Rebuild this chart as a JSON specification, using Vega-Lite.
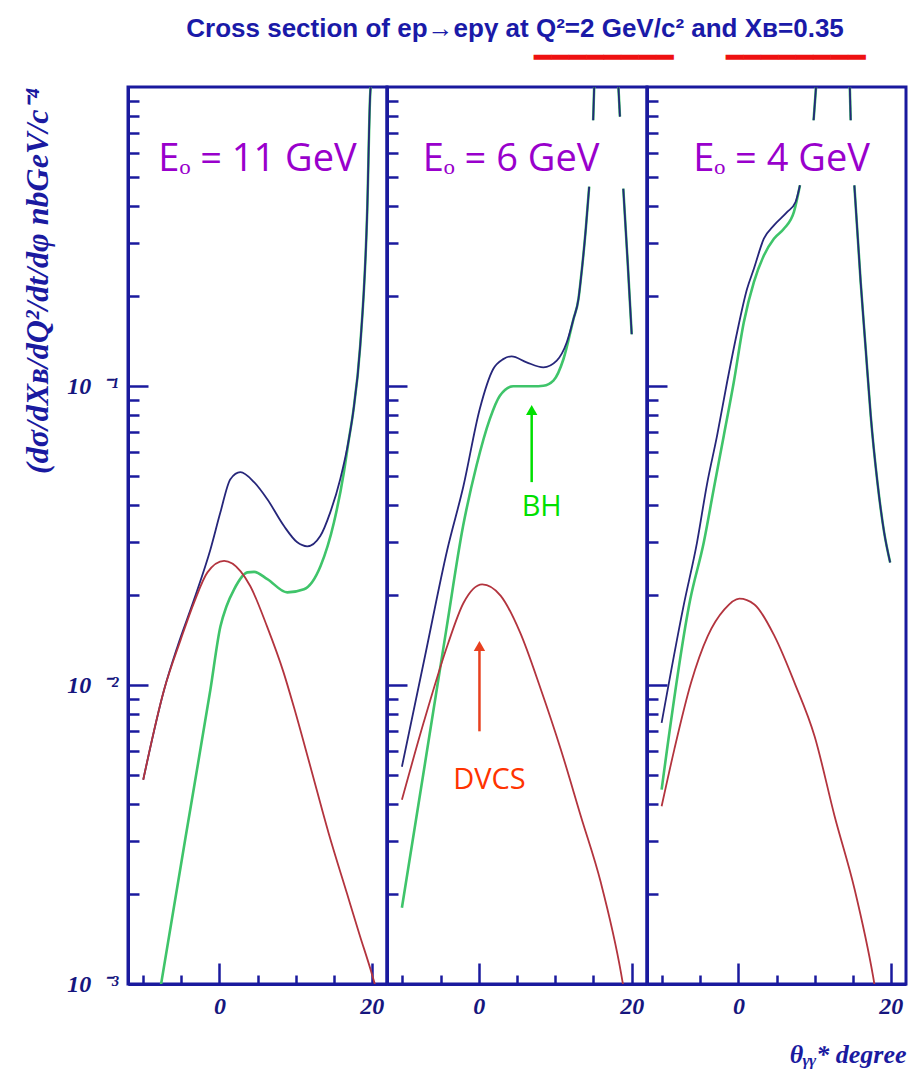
{
  "$schema": "https://vega.github.io/schema/vega-lite/v6.json",
  "background": "white",
  "padding": {"left": 20, "top": 15, "right": 5, "bottom": 8},
  "title": {
    "text": "Cross section of ep→epγ at Q²=2 GeV/c² and Xʙ=0.35\u00a0\u00a0\u00a0\u200b",
    "subtitle": "━━━━━━━━\u00a0\u00a0\u00a0━━━━━━━━",
    "anchor": "end",
    "frame": "bounds",
    "dx": -42,
    "offset": 13,
    "font": "Liberation Sans",
    "fontSize": 26,
    "fontWeight": "bold",
    "color": "#1a1aa8",
    "subtitleFont": "DejaVu Sans Mono",
    "subtitleFontSize": 29,
    "subtitleColor": "#ee1111",
    "subtitlePadding": 2
  },
  "spacing": 0,
  "bounds": "flush",
  "datasets": {
    "curves": [
      {"E":11,"s":"T","g":"a","t":-10,"v":0.00482},
      {"E":11,"s":"T","g":"a","t":-7.25,"v":0.00966},
      {"E":11,"s":"T","g":"a","t":-5.5,"v":0.01346},
      {"E":11,"s":"T","g":"a","t":-3.32,"v":0.01934},
      {"E":11,"s":"T","g":"a","t":-1.18,"v":0.0284},
      {"E":11,"s":"T","g":"a","t":0.13,"v":0.0378},
      {"E":11,"s":"T","g":"a","t":1.44,"v":0.0488},
      {"E":11,"s":"T","g":"a","t":2.75,"v":0.0515},
      {"E":11,"s":"T","g":"a","t":4.55,"v":0.0477},
      {"E":11,"s":"T","g":"a","t":6.29,"v":0.0418},
      {"E":11,"s":"T","g":"a","t":8.48,"v":0.034},
      {"E":11,"s":"T","g":"a","t":10.22,"v":0.03},
      {"E":11,"s":"T","g":"a","t":11.53,"v":0.0291},
      {"E":11,"s":"T","g":"a","t":13.24,"v":0.0315},
      {"E":11,"s":"T","g":"a","t":14.55,"v":0.0378},
      {"E":11,"s":"T","g":"a","t":15.86,"v":0.0488},
      {"E":11,"s":"T","g":"a","t":17.0,"v":0.0665},
      {"E":11,"s":"T","g":"a","t":17.56,"v":0.0818},
      {"E":11,"s":"T","g":"a","t":18.48,"v":0.136},
      {"E":11,"s":"T","g":"a","t":19.4,"v":0.383},
      {"E":11,"s":"T","g":"a","t":19.79,"v":0.94},
      {"E":11,"s":"T","g":"a","t":19.92,"v":1.05},

      {"E":11,"s":"D","g":"a","t":-10,"v":0.00482},
      {"E":11,"s":"D","g":"a","t":-7.25,"v":0.00966},
      {"E":11,"s":"D","g":"a","t":-5.07,"v":0.0142},
      {"E":11,"s":"D","g":"a","t":-3.32,"v":0.0189},
      {"E":11,"s":"D","g":"a","t":-1.57,"v":0.0238},
      {"E":11,"s":"D","g":"a","t":0.62,"v":0.026},
      {"E":11,"s":"D","g":"a","t":2.79,"v":0.024},
      {"E":11,"s":"D","g":"a","t":4.06,"v":0.0214},
      {"E":11,"s":"D","g":"a","t":6.25,"v":0.0157},
      {"E":11,"s":"D","g":"a","t":8.43,"v":0.011},
      {"E":11,"s":"D","g":"a","t":9.74,"v":0.0085},
      {"E":11,"s":"D","g":"a","t":11.93,"v":0.00535},
      {"E":11,"s":"D","g":"a","t":14.33,"v":0.0032},
      {"E":11,"s":"D","g":"a","t":16.74,"v":0.00201},
      {"E":11,"s":"D","g":"a","t":18.48,"v":0.00144},
      {"E":11,"s":"D","g":"a","t":19.79,"v":0.00113},
      {"E":11,"s":"D","g":"a","t":20.5,"v":0.00098},

      {"E":11,"s":"BH","g":"a","t":-7.8,"v":0.00095},
      {"E":11,"s":"BH","g":"a","t":-4.46,"v":0.00308},
      {"E":11,"s":"BH","g":"a","t":-1.18,"v":0.00966},
      {"E":11,"s":"BH","g":"a","t":0.13,"v":0.0157},
      {"E":11,"s":"BH","g":"a","t":0.92,"v":0.0183},
      {"E":11,"s":"BH","g":"a","t":1.93,"v":0.0209},
      {"E":11,"s":"BH","g":"a","t":3.67,"v":0.0238},
      {"E":11,"s":"BH","g":"a","t":4.55,"v":0.0239},
      {"E":11,"s":"BH","g":"a","t":6.29,"v":0.0226},
      {"E":11,"s":"BH","g":"a","t":8.91,"v":0.0204},
      {"E":11,"s":"BH","g":"a","t":11.1,"v":0.0209},
      {"E":11,"s":"BH","g":"a","t":13.28,"v":0.025},
      {"E":11,"s":"BH","g":"a","t":15.04,"v":0.035},
      {"E":11,"s":"BH","g":"a","t":16.34,"v":0.0515},
      {"E":11,"s":"BH","g":"a","t":17.0,"v":0.0665},
      {"E":11,"s":"BH","g":"a","t":17.56,"v":0.0818},
      {"E":11,"s":"BH","g":"a","t":18.48,"v":0.136},
      {"E":11,"s":"BH","g":"a","t":19.4,"v":0.383},
      {"E":11,"s":"BH","g":"a","t":19.79,"v":0.94},
      {"E":11,"s":"BH","g":"a","t":19.92,"v":1.05},

      {"E":6,"s":"T","g":"a","t":-10.05,"v":0.00533},
      {"E":6,"s":"T","g":"a","t":-7.0,"v":0.0126},
      {"E":6,"s":"T","g":"a","t":-4.11,"v":0.0284},
      {"E":6,"s":"T","g":"a","t":-2.01,"v":0.0462},
      {"E":6,"s":"T","g":"a","t":0.13,"v":0.0838},
      {"E":6,"s":"T","g":"a","t":1.89,"v":0.114},
      {"E":6,"s":"T","g":"a","t":3.2,"v":0.123},
      {"E":6,"s":"T","g":"a","t":4.29,"v":0.1257},
      {"E":6,"s":"T","g":"a","t":6.26,"v":0.12},
      {"E":6,"s":"T","g":"a","t":8.45,"v":0.1155},
      {"E":6,"s":"T","g":"a","t":10.2,"v":0.1216},
      {"E":6,"s":"T","g":"a","t":11.51,"v":0.14},
      {"E":6,"s":"T","g":"a","t":12.39,"v":0.1677},
      {"E":6,"s":"T","g":"a","t":13.04,"v":0.1956},
      {"E":6,"s":"T","g":"a","t":13.35,"v":0.228},
      {"E":6,"s":"T","g":"a","t":14.0,"v":0.336},
      {"E":6,"s":"T","g":"a","t":14.44,"v":0.464},
      {"E":6,"s":"T","g":"b","t":14.96,"v":0.774},
      {"E":6,"s":"T","g":"b","t":15.12,"v":1.05},
      {"E":6,"s":"T","g":"c","t":18.22,"v":1.05},
      {"E":6,"s":"T","g":"c","t":18.46,"v":0.796},
      {"E":6,"s":"T","g":"d","t":18.9,"v":0.457},
      {"E":6,"s":"T","g":"d","t":19.47,"v":0.26},
      {"E":6,"s":"T","g":"d","t":20.0,"v":0.149},

      {"E":6,"s":"BH","g":"a","t":-10.05,"v":0.0018},
      {"E":6,"s":"BH","g":"a","t":-7.1,"v":0.00533},
      {"E":6,"s":"BH","g":"a","t":-4.24,"v":0.01535},
      {"E":6,"s":"BH","g":"a","t":-2.05,"v":0.034},
      {"E":6,"s":"BH","g":"a","t":-0.3,"v":0.0541},
      {"E":6,"s":"BH","g":"a","t":1.44,"v":0.0775},
      {"E":6,"s":"BH","g":"a","t":2.76,"v":0.0928},
      {"E":6,"s":"BH","g":"a","t":4.51,"v":0.0998},
      {"E":6,"s":"BH","g":"a","t":7.14,"v":0.0998},
      {"E":6,"s":"BH","g":"a","t":8.45,"v":0.1002},
      {"E":6,"s":"BH","g":"a","t":9.76,"v":0.1042},
      {"E":6,"s":"BH","g":"a","t":11.08,"v":0.1231},
      {"E":6,"s":"BH","g":"a","t":12.39,"v":0.1677},
      {"E":6,"s":"BH","g":"a","t":13.04,"v":0.1956},
      {"E":6,"s":"BH","g":"a","t":13.35,"v":0.228},
      {"E":6,"s":"BH","g":"a","t":14.0,"v":0.336},
      {"E":6,"s":"BH","g":"a","t":14.44,"v":0.464},
      {"E":6,"s":"BH","g":"b","t":14.96,"v":0.774},
      {"E":6,"s":"BH","g":"b","t":15.12,"v":1.05},
      {"E":6,"s":"BH","g":"c","t":18.22,"v":1.05},
      {"E":6,"s":"BH","g":"c","t":18.46,"v":0.796},
      {"E":6,"s":"BH","g":"d","t":18.9,"v":0.457},
      {"E":6,"s":"BH","g":"d","t":19.47,"v":0.26},
      {"E":6,"s":"BH","g":"d","t":20.0,"v":0.149},

      {"E":6,"s":"D","g":"a","t":-10.05,"v":0.00413},
      {"E":6,"s":"D","g":"a","t":-7.2,"v":0.0075},
      {"E":6,"s":"D","g":"a","t":-4.0,"v":0.0138},
      {"E":6,"s":"D","g":"a","t":-2.0,"v":0.0188},
      {"E":6,"s":"D","g":"a","t":0.45,"v":0.0217},
      {"E":6,"s":"D","g":"a","t":2.85,"v":0.0199},
      {"E":6,"s":"D","g":"a","t":5.4,"v":0.015},
      {"E":6,"s":"D","g":"a","t":8.1,"v":0.0097},
      {"E":6,"s":"D","g":"a","t":10.72,"v":0.0061},
      {"E":6,"s":"D","g":"a","t":13.35,"v":0.00364},
      {"E":6,"s":"D","g":"a","t":15.97,"v":0.00218},
      {"E":6,"s":"D","g":"a","t":18.6,"v":0.00109},
      {"E":6,"s":"D","g":"a","t":19.0,"v":0.00095},

      {"E":4,"s":"T","g":"a","t":-10.08,"v":0.00747},
      {"E":4,"s":"T","g":"a","t":-7.18,"v":0.0185},
      {"E":4,"s":"T","g":"a","t":-5.43,"v":0.03},
      {"E":4,"s":"T","g":"a","t":-4.12,"v":0.047},
      {"E":4,"s":"T","g":"a","t":-2.8,"v":0.0682},
      {"E":4,"s":"T","g":"a","t":-1.49,"v":0.1029},
      {"E":4,"s":"T","g":"a","t":-0.17,"v":0.1513},
      {"E":4,"s":"T","g":"a","t":1.14,"v":0.2113},
      {"E":4,"s":"T","g":"a","t":2.03,"v":0.2466},
      {"E":4,"s":"T","g":"a","t":3.34,"v":0.3108},
      {"E":4,"s":"T","g":"a","t":4.66,"v":0.3444},
      {"E":4,"s":"T","g":"a","t":6.41,"v":0.382},
      {"E":4,"s":"T","g":"a","t":7.5,"v":0.4124},
      {"E":4,"s":"T","g":"a","t":8.08,"v":0.469},
      {"E":4,"s":"T","g":"b","t":9.87,"v":0.774},
      {"E":4,"s":"T","g":"b","t":10.25,"v":1.05},
      {"E":4,"s":"T","g":"c","t":14.6,"v":1.05},
      {"E":4,"s":"T","g":"c","t":14.74,"v":0.774},
      {"E":4,"s":"T","g":"d","t":15.22,"v":0.469},
      {"E":4,"s":"T","g":"d","t":16.05,"v":0.2226},
      {"E":4,"s":"T","g":"d","t":16.71,"v":0.133},
      {"E":4,"s":"T","g":"d","t":17.37,"v":0.0795},
      {"E":4,"s":"T","g":"d","t":18.25,"v":0.0476},
      {"E":4,"s":"T","g":"d","t":19.13,"v":0.0324},
      {"E":4,"s":"T","g":"d","t":19.92,"v":0.0257},

      {"E":4,"s":"BH","g":"a","t":-10.08,"v":0.00447},
      {"E":4,"s":"BH","g":"a","t":-6.32,"v":0.01934},
      {"E":4,"s":"BH","g":"a","t":-4.55,"v":0.02995},
      {"E":4,"s":"BH","g":"a","t":-3.24,"v":0.0452},
      {"E":4,"s":"BH","g":"a","t":-1.92,"v":0.0682},
      {"E":4,"s":"BH","g":"a","t":-0.61,"v":0.1029},
      {"E":4,"s":"BH","g":"a","t":0.71,"v":0.1634},
      {"E":4,"s":"BH","g":"a","t":2.03,"v":0.2226},
      {"E":4,"s":"BH","g":"a","t":3.34,"v":0.2732},
      {"E":4,"s":"BH","g":"a","t":4.66,"v":0.3108},
      {"E":4,"s":"BH","g":"a","t":5.97,"v":0.3357},
      {"E":4,"s":"BH","g":"a","t":7.29,"v":0.382},
      {"E":4,"s":"BH","g":"a","t":8.08,"v":0.469},
      {"E":4,"s":"BH","g":"b","t":9.87,"v":0.774},
      {"E":4,"s":"BH","g":"b","t":10.25,"v":1.05},
      {"E":4,"s":"BH","g":"c","t":14.6,"v":1.05},
      {"E":4,"s":"BH","g":"c","t":14.74,"v":0.774},
      {"E":4,"s":"BH","g":"d","t":15.22,"v":0.469},
      {"E":4,"s":"BH","g":"d","t":16.05,"v":0.2226},
      {"E":4,"s":"BH","g":"d","t":16.71,"v":0.133},
      {"E":4,"s":"BH","g":"d","t":17.37,"v":0.0795},
      {"E":4,"s":"BH","g":"d","t":18.25,"v":0.0476},
      {"E":4,"s":"BH","g":"d","t":19.13,"v":0.0324},
      {"E":4,"s":"BH","g":"d","t":19.92,"v":0.0257},

      {"E":4,"s":"D","g":"a","t":-10.08,"v":0.00393},
      {"E":4,"s":"D","g":"a","t":-8.42,"v":0.00608},
      {"E":4,"s":"D","g":"a","t":-6.22,"v":0.01017},
      {"E":4,"s":"D","g":"a","t":-4.03,"v":0.01457},
      {"E":4,"s":"D","g":"a","t":-1.84,"v":0.0179},
      {"E":4,"s":"D","g":"a","t":0.13,"v":0.01945},
      {"E":4,"s":"D","g":"a","t":2.1,"v":0.0186},
      {"E":4,"s":"D","g":"a","t":4.74,"v":0.01457},
      {"E":4,"s":"D","g":"a","t":7.37,"v":0.01017},
      {"E":4,"s":"D","g":"a","t":10.0,"v":0.00674},
      {"E":4,"s":"D","g":"a","t":12.63,"v":0.00364},
      {"E":4,"s":"D","g":"a","t":15.26,"v":0.00207},
      {"E":4,"s":"D","g":"a","t":17.68,"v":0.00106},
      {"E":4,"s":"D","g":"a","t":18.0,"v":0.00095}
    ],
    "notes": [
      {"kind":"BH","t":6.92,"v":0.0831,"v2":0.0477,"lt":8.23,"lv":0.0394},
      {"kind":"DVCS","t":0.09,"v":0.0135,"v2":0.007,"lt":1.4,"lv":0.0048}
    ]
  },
  "hconcat": [
    {
      "width": 259, "height": 897,
      "title": {"text": "Eₒ = 11 GeV", "offset": -92, "anchor": "middle", "font": "Open Sans", "fontSize": 38, "fontWeight": "normal", "color": "#9900cc"},
      "encoding": {
        "x": {"field": "t", "type": "quantitative", "scale": {"domain": [-12, 22], "nice": false, "zero": false},
          "axis": {"values": [-10,-5,0,5,10,15,20], "labelExpr": "datum.value == 0 || datum.value == 20 ? datum.label : ''",
            "tickSize": {"condition": {"test": "datum.value == 0 || datum.value == 20", "value": -21}, "value": -9},
            "labelPadding": 31, "title": null}},
        "y": {"field": "v", "type": "quantitative", "scale": {"type": "log", "domain": [0.001, 1], "nice": false},
          "axis": {"values": [0.001,0.002,0.003,0.004,0.005,0.006,0.007,0.008,0.009,0.01,0.02,0.03,0.04,0.05,0.06,0.07,0.08,0.09,0.1,0.2,0.3,0.4,0.5,0.6,0.7,0.8,0.9],
            "labelExpr": "datum.value == 0.001 ? '10\u2002⁻³' : datum.value == 0.01 ? '10\u2002⁻²' : datum.value == 0.1 ? '10\u2002⁻¹' : ''",
            "tickSize": {"condition": {"test": "datum.value == 0.001 || datum.value == 0.01 || datum.value == 0.1", "value": -20}, "value": -11},
            "labelPadding": 30,
            "title": "(dσ/dXʙ/dQ²/dt/dφ nbGeV/c⁻⁴", "titleAnchor": "end", "titleFontSize": 32, "titlePadding": 12}}
      },
      "layer": [
        {"data": {"name": "curves"}, "transform": [{"filter": "datum.E == 11 && datum.s == 'BH'"}],
         "mark": {"type": "line", "color": "#3fc46a", "strokeWidth": 2.6, "clip": true, "interpolate": "monotone"},
         "encoding": {"detail": {"field": "g"}}},
        {"data": {"name": "curves"}, "transform": [{"filter": "datum.E == 11 && datum.s == 'T'"}],
         "mark": {"type": "line", "color": "#26267a", "strokeWidth": 1.8, "clip": true, "interpolate": "monotone"},
         "encoding": {"detail": {"field": "g"}}},
        {"data": {"name": "curves"}, "transform": [{"filter": "datum.E == 11 && datum.s == 'D'"}],
         "mark": {"type": "line", "color": "#b3343e", "strokeWidth": 1.8, "clip": true, "interpolate": "monotone"},
         "encoding": {"detail": {"field": "g"}}}
      ]
    },
    {
      "width": 260, "height": 897,
      "title": {"text": "Eₒ = 6 GeV", "offset": -92, "anchor": "middle", "dx": -6, "font": "Open Sans", "fontSize": 38, "fontWeight": "normal", "color": "#9900cc"},
      "encoding": {
        "x": {"field": "t", "type": "quantitative", "scale": {"domain": [-12, 22], "nice": false, "zero": false},
          "axis": {"values": [-10,-5,0,5,10,15,20], "labelExpr": "datum.value == 0 || datum.value == 20 ? datum.label : ''",
            "tickSize": {"condition": {"test": "datum.value == 0 || datum.value == 20", "value": -21}, "value": -9},
            "labelPadding": 31, "title": null}},
        "y": {"field": "v", "type": "quantitative", "scale": {"type": "log", "domain": [0.001, 1], "nice": false},
          "axis": {"values": [0.001,0.002,0.003,0.004,0.005,0.006,0.007,0.008,0.009,0.01,0.02,0.03,0.04,0.05,0.06,0.07,0.08,0.09,0.1,0.2,0.3,0.4,0.5,0.6,0.7,0.8,0.9],
            "labels": false,
            "tickSize": {"condition": {"test": "datum.value == 0.001 || datum.value == 0.01 || datum.value == 0.1", "value": -20}, "value": -11},
            "title": null}}
      },
      "layer": [
        {"data": {"name": "curves"}, "transform": [{"filter": "datum.E == 6 && datum.s == 'BH'"}],
         "mark": {"type": "line", "color": "#3fc46a", "strokeWidth": 2.6, "clip": true, "interpolate": "monotone"},
         "encoding": {"detail": {"field": "g"}}},
        {"data": {"name": "curves"}, "transform": [{"filter": "datum.E == 6 && datum.s == 'T'"}],
         "mark": {"type": "line", "color": "#26267a", "strokeWidth": 1.8, "clip": true, "interpolate": "monotone"},
         "encoding": {"detail": {"field": "g"}}},
        {"data": {"name": "curves"}, "transform": [{"filter": "datum.E == 6 && datum.s == 'D'"}],
         "mark": {"type": "line", "color": "#b3343e", "strokeWidth": 1.8, "clip": true, "interpolate": "monotone"},
         "encoding": {"detail": {"field": "g"}}},
        {"data": {"name": "notes"},
         "mark": {"type": "rule", "strokeWidth": 2.5},
         "encoding": {"y2": {"field": "v2"},
           "color": {"field": "kind", "type": "nominal", "scale": {"domain": ["BH", "DVCS"], "range": ["#00e000", "#e8401f"]}, "legend": null}}},
        {"data": {"name": "notes"},
         "mark": {"type": "point", "shape": "triangle-up", "filled": true, "size": 130, "opacity": 1},
         "encoding": {
           "color": {"field": "kind", "type": "nominal", "scale": {"domain": ["BH", "DVCS"], "range": ["#00e000", "#e8401f"]}, "legend": null}}},
        {"data": {"name": "notes"},
         "mark": {"type": "text", "font": "Open Sans", "fontSize": 29, "align": "center", "baseline": "middle"},
         "encoding": {
           "x": {"field": "lt", "type": "quantitative"},
           "y": {"field": "lv", "type": "quantitative"},
           "text": {"field": "kind"},
           "color": {"field": "kind", "type": "nominal", "scale": {"domain": ["BH", "DVCS"], "range": ["#00e000", "#ff3300"]}, "legend": null}}}
      ],
      "resolve": {"scale": {"color": "independent"}}
    },
    {
      "width": 259, "height": 897,
      "title": {"text": "Eₒ = 4 GeV", "offset": -92, "anchor": "middle", "dx": 5, "font": "Open Sans", "fontSize": 38, "fontWeight": "normal", "color": "#9900cc"},
      "encoding": {
        "x": {"field": "t", "type": "quantitative", "scale": {"domain": [-12, 22], "nice": false, "zero": false},
          "axis": {"values": [-10,-5,0,5,10,15,20], "labelExpr": "datum.value == 0 || datum.value == 20 ? datum.label : ''",
            "tickSize": {"condition": {"test": "datum.value == 0 || datum.value == 20", "value": -21}, "value": -9},
            "labelPadding": 31, "title": "θᵧᵧ* degree", "titleAnchor": "end", "titleFontSize": 26, "titlePadding": 11}},
        "y": {"field": "v", "type": "quantitative", "scale": {"type": "log", "domain": [0.001, 1], "nice": false},
          "axis": {"values": [0.001,0.002,0.003,0.004,0.005,0.006,0.007,0.008,0.009,0.01,0.02,0.03,0.04,0.05,0.06,0.07,0.08,0.09,0.1,0.2,0.3,0.4,0.5,0.6,0.7,0.8,0.9],
            "labels": false,
            "tickSize": {"condition": {"test": "datum.value == 0.001 || datum.value == 0.01 || datum.value == 0.1", "value": -20}, "value": -11},
            "title": null}}
      },
      "layer": [
        {"data": {"name": "curves"}, "transform": [{"filter": "datum.E == 4 && datum.s == 'BH'"}],
         "mark": {"type": "line", "color": "#3fc46a", "strokeWidth": 2.6, "clip": true, "interpolate": "monotone"},
         "encoding": {"detail": {"field": "g"}}},
        {"data": {"name": "curves"}, "transform": [{"filter": "datum.E == 4 && datum.s == 'T'"}],
         "mark": {"type": "line", "color": "#26267a", "strokeWidth": 1.8, "clip": true, "interpolate": "monotone"},
         "encoding": {"detail": {"field": "g"}}},
        {"data": {"name": "curves"}, "transform": [{"filter": "datum.E == 4 && datum.s == 'D'"}],
         "mark": {"type": "line", "color": "#b3343e", "strokeWidth": 1.8, "clip": true, "interpolate": "monotone"},
         "encoding": {"detail": {"field": "g"}}}
      ]
    }
  ],
  "config": {
    "view": {"stroke": "#1a1a9e", "strokeWidth": 3},
    "axis": {
      "grid": false,
      "domainColor": "#1a1a9e", "domainWidth": 3,
      "tickColor": "#1a1a9e", "tickWidth": 2.5,
      "labelFont": "Liberation Serif", "labelFontSize": 24, "labelFontStyle": "italic", "labelFontWeight": "bold", "labelColor": "#16167e",
      "labelOverlap": false, "labelFlush": false, "labelBound": false,
      "titleFont": "Liberation Serif", "titleFontStyle": "italic", "titleFontWeight": "bold", "titleColor": "#1a1aa0"
    }
  }
}
